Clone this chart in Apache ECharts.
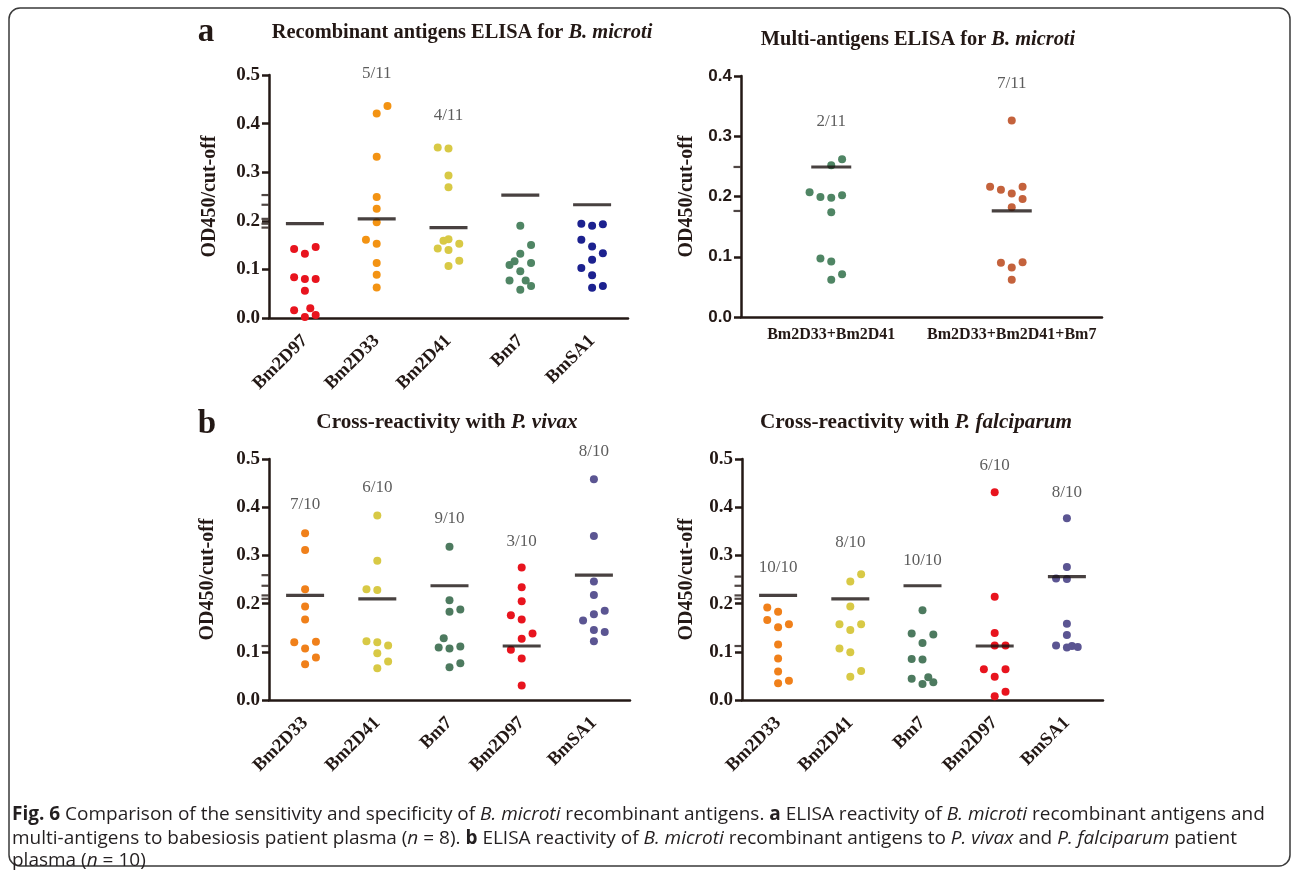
<!DOCTYPE html>
<html><head><meta charset="utf-8">
<script src="https://cdn.jsdelivr.net/npm/echarts@6/dist/echarts.min.js"></script>
<style>html,body{margin:0;padding:0;background:#fff}#c{width:1292px;height:871px}</style>
</head><body><div id="c"></div>
<script>
// ---------- Panel a (left): recombinant antigens ----------
const catsA = ['Bm2D97','Bm2D33','Bm2D41','Bm7','BmSA1'];
const aBm2D97 = [0.142,0.132,0.146,0.084,0.080,0.080,0.056,0.016,0.020,0.002,0.006];
const aBm2D97Jit = [-0.15,0,0.15,-0.15,0,0.15,0,-0.15,0.075,0,0.15];
const aBm2D33 = [0.436,0.421,0.332,0.249,0.225,0.197,0.161,0.153,0.113,0.089,0.063];
const aBm2D33Jit = [0.15,0,0,0,0,0,-0.15,0,0,0,0];
const aBm2D41 = [0.351,0.349,0.293,0.269,0.162,0.159,0.153,0.143,0.140,0.118,0.107];
const aBm2D41Jit = [-0.15,0,0,0,0,-0.07,0.15,-0.15,0,0.15,0];
const aBm7 = [0.190,0.150,0.132,0.117,0.109,0.113,0.096,0.077,0.077,0.066,0.058];
const aBm7Jit = [0,0.15,0,-0.08,-0.15,0.15,0,-0.15,0.075,0.15,0];
const aBmSA1 = [0.194,0.190,0.193,0.161,0.147,0.133,0.120,0.103,0.088,0.062,0.066];
const aBmSA1Jit = [-0.15,0,0.15,-0.15,0,0.15,0,-0.15,0,0,0.15];
const cutoffA = [0.194,0.204,0.186,0.253,0.233];
const countA = ['','5/11','4/11','',''];
const countAPos = [null,0.503,0.417,null,null];

// ---------- Panel a (right): multi-antigens ----------
const catsM = ['Bm2D33+Bm2D41','Bm2D33+Bm2D41+Bm7'];
const mPair = [0.262,0.252,0.207,0.199,0.198,0.202,0.174,0.097,0.092,0.071,0.062];
const mPairJit = [0.06,0,-0.12,-0.06,0,0.06,0,-0.06,0,0.06,0];
const mTriple = [0.326,0.216,0.211,0.205,0.216,0.196,0.182,0.090,0.091,0.082,0.062];
const mTripleJit = [0,-0.12,-0.06,0,0.06,0.06,0,-0.06,0.06,0,0];
const cutoffM = [0.249,0.176];
const countM = ['2/11','7/11'];
const countMPos = [0.325,0.388];

// ---------- Panel b (left): P. vivax ----------
const catsB = ['Bm2D33','Bm2D41','Bm7','Bm2D97','BmSA1'];
const vBm2D33 = [0.346,0.311,0.230,0.194,0.167,0.120,0.121,0.107,0.088,0.074];
const vBm2D33Jit = [0,0,0,0,0,-0.15,0.15,0,0.15,0];
const vBm2D41 = [0.383,0.289,0.230,0.228,0.122,0.120,0.113,0.097,0.080,0.066];
const vBm2D41Jit = [0,0,-0.15,0,-0.15,0,0.15,0,0.15,0];
const vBm7 = [0.318,0.207,0.183,0.188,0.128,0.109,0.107,0.111,0.068,0.076];
const vBm7Jit = [0,0,0,0.15,-0.08,-0.15,0,0.15,0,0.15];
const vBm2D97 = [0.275,0.234,0.205,0.176,0.167,0.138,0.127,0.104,0.086,0.030];
const vBm2D97Jit = [0,0,0,-0.15,0,0.15,0,-0.15,0,0];
const vBmSA1 = [0.458,0.340,0.246,0.218,0.178,0.185,0.165,0.145,0.141,0.122];
const vBmSA1Jit = [0,0,0,0,0,0.15,-0.15,0,0.15,0];
const cutoffV = [0.217,0.210,0.237,0.112,0.259];
const countV = ['7/10','6/10','9/10','3/10','8/10'];
const countVPos = [0.406,0.441,0.377,0.328,0.515];

// ---------- Panel b (right): P. falciparum ----------
const fBm2D33 = [0.192,0.183,0.166,0.151,0.157,0.115,0.086,0.059,0.035,0.040];
const fBm2D33Jit = [-0.15,0,-0.15,0,0.15,0,0,0,0,0.15];
const fBm2D41 = [0.261,0.246,0.194,0.157,0.157,0.145,0.107,0.099,0.060,0.048];
const fBm2D41Jit = [0.15,0,0,-0.15,0.15,0,-0.15,0,0.15,0];
const fBm7 = [0.186,0.138,0.136,0.118,0.085,0.084,0.044,0.047,0.037,0.033];
const fBm7Jit = [0,-0.15,0.15,0,-0.15,0,-0.15,0.08,0.15,0];
const fBm2D97 = [0.431,0.214,0.139,0.113,0.113,0.064,0.064,0.048,0.017,0.008];
const fBm2D97Jit = [0,0,0,0,0.15,-0.15,0.15,0,0.15,0];
const fBmSA1 = [0.377,0.276,0.252,0.251,0.158,0.135,0.113,0.109,0.112,0.110];
const fBmSA1Jit = [0,0,-0.15,0,0,0,-0.15,0,0.07,0.15];
const cutoffF = [0.217,0.210,0.237,0.112,0.256];
const countF = ['10/10','8/10','10/10','6/10','8/10'];
const countFPos = [0.275,0.327,0.289,0.486,0.431];

// ---------- styling ----------
const INK = '#231815';
const SERIF = '"Liberation Serif","Times New Roman",serif';
const SANS = '"Liberation Sans",Arial,sans-serif';
const RED='#e8141e', ORANGE='#f39313', ORANGE2='#f0801a', YELLOW='#d8c945', GREEN='#4f8564', GREEN2='#4d7a5f', NAVY='#1c218f', BROWN='#c4623c', PURPLE='#5b5592';

const panels = [
  {cats:catsA, groups:[aBm2D97,aBm2D33,aBm2D41,aBm7,aBmSA1], jits:[aBm2D97Jit,aBm2D33Jit,aBm2D41Jit,aBm7Jit,aBmSA1Jit],
   colors:[RED,ORANGE,YELLOW,GREEN,NAVY], cutoff:cutoffA, count:countA, countPos:countAPos, ymax:0.5,
   grid:{left:269,top:75,width:359,height:243}, rotate:45, tickFont:SERIF, tickSize:19, barW:38, nameGap:49},
  {cats:catsM, groups:[mPair,mTriple], jits:[mPairJit,mTripleJit],
   colors:[GREEN,BROWN], cutoff:cutoffM, count:countM, countPos:countMPos, ymax:0.4,
   grid:{left:741,top:76,width:361,height:241}, rotate:0, tickFont:SANS, tickSize:17, barW:40, nameGap:44},
  {cats:catsB, groups:[vBm2D33,vBm2D41,vBm7,vBm2D97,vBmSA1], jits:[vBm2D33Jit,vBm2D41Jit,vBm7Jit,vBm2D97Jit,vBmSA1Jit],
   colors:[ORANGE2,YELLOW,GREEN2,RED,PURPLE], cutoff:cutoffV, count:countV, countPos:countVPos, ymax:0.5,
   grid:{left:269,top:459,width:361,height:241}, rotate:45, tickFont:SERIF, tickSize:19, barW:38, nameGap:51},
  {cats:catsB, groups:[fBm2D33,fBm2D41,fBm7,fBm2D97,fBmSA1], jits:[fBm2D33Jit,fBm2D41Jit,fBm7Jit,fBm2D97Jit,fBmSA1Jit],
   colors:[ORANGE2,YELLOW,GREEN2,RED,PURPLE], cutoff:cutoffF, count:countF, countPos:countFPos, ymax:0.5,
   grid:{left:742,top:459,width:361,height:241}, rotate:45, tickFont:SERIF, tickSize:19, barW:38, nameGap:45}
];

const grid=[], xAxis=[], yAxis=[], series=[];
panels.forEach((p,i)=>{
  grid.push(Object.assign({containLabel:false}, p.grid));
  xAxis.push({
    type:'category', gridIndex:i, data:p.cats, boundaryGap:true,
    axisLine:{onZero:false, lineStyle:{color:INK,width:2.5}},
    axisTick:{alignWithLabel:true,length:7,lineStyle:{color:INK,width:2.5}},
    axisLabel:{rotate:p.rotate, interval:0, fontFamily:SERIF, fontWeight:'bold',
      fontSize:p.rotate?18.5:16, color:INK, margin:p.rotate?20:10}
  });
  xAxis.push({type:'value', gridIndex:i, min:-0.5, max:p.cats.length-0.5, show:false});
  yAxis.push({
    type:'value', gridIndex:i, min:0, max:p.ymax, interval:0.1,
    name:'OD450/cut-off', nameLocation:'middle', nameGap:p.nameGap,
    nameTextStyle:{fontFamily:SERIF, fontWeight:'bold', fontSize:20, color:INK},
    axisLine:{show:true, onZero:false, lineStyle:{color:INK,width:2.5}},
    axisTick:{show:true, length:7, lineStyle:{color:INK,width:2.5}},
    splitLine:{show:false},
    axisLabel:{formatter:v=>v.toFixed(1), fontFamily:p.tickFont, fontWeight:'bold', fontSize:p.tickSize, color:INK, margin:9}
  });
  const xc = 2*i, xv = 2*i+1;
  p.groups.forEach((vals,g)=>{
    series.push({
      type:'scatter', xAxisIndex:xv, yAxisIndex:i, symbolSize:8, clip:false,
      itemStyle:{color:p.colors[g], opacity:1},
      data: vals.map((v,k)=>[g + p.jits[g][k], v]),
      z:3
    });
  });
  // cut-off lines
  series.push({
    type:'scatter', xAxisIndex:xc, yAxisIndex:i, symbol:'rect', symbolSize:[p.barW,3.2], clip:false,
    itemStyle:{color:'#1a1210'}, data:p.cutoff.map((v,g)=>[p.cats[g], v]), z:4
  });
  // extra axis ticks at cut-off values
  series.push({
    type:'scatter', xAxisIndex:xv, yAxisIndex:i, symbol:'rect', symbolSize:[7,2.2], symbolOffset:[-4,0], clip:false,
    itemStyle:{color:INK}, data:p.cutoff.map(v=>[-0.5, v]), z:2, silent:true
  });
  // positive counts
  series.push({
    type:'scatter', xAxisIndex:xc, yAxisIndex:i, symbolSize:1, clip:false,
    itemStyle:{color:'rgba(0,0,0,0)'},
    label:{show:true, position:'inside', formatter:o=>o.data[2], fontFamily:SERIF, fontSize:17, color:'#333'},
    data:p.count.map((t,g)=>[p.cats[g], p.countPos[g], t]).filter(d=>d[2]!=='' ), z:5
  });
});

const CAPF = '"Open Sans","Noto Sans",sans-serif';
const CAPS = 19;
const capBase = {fontFamily:CAPF, fontSize:CAPS, fill:'#231f20'};
const capRich = {
  b:{fontFamily:CAPF, fontSize:CAPS, fontWeight:'bold', fill:'#231f20'},
  i:{fontFamily:CAPF, fontSize:CAPS, fontStyle:'italic', fill:'#231f20'}
};
function titleText(x,y,plain,ital,size){
  return {type:'text', x:x, y:y, style:{
    text:'{r|'+plain+'}{it|'+ital+'}', align:'center', verticalAlign:'middle',
    rich:{r:{fontFamily:SERIF,fontWeight:'bold',fontSize:size,fill:INK},
          it:{fontFamily:SERIF,fontWeight:'bold',fontStyle:'italic',fontSize:size,fill:INK}}}};
}
const graphic = [
  {type:'rect', shape:{x:9,y:8,width:1281,height:858,r:11}, style:{fill:'none',stroke:'#3a3a3a',lineWidth:1.5}},
  {type:'text', x:206, y:32, style:{text:'a', fontFamily:SERIF, fontWeight:'bold', fontSize:33, fill:INK, align:'center', verticalAlign:'middle'}},
  {type:'text', x:207, y:424, style:{text:'b', fontFamily:SERIF, fontWeight:'bold', fontSize:33, fill:INK, align:'center', verticalAlign:'middle'}},
  titleText(462,33,'Recombinant antigens ELISA for ','B. microti',20.4),
  titleText(918,40,'Multi-antigens ELISA for ','B. microti',20.4),
  titleText(447,423,'Cross-reactivity with ','P. vivax',21.2),
  titleText(916,423,'Cross-reactivity with ','P. falciparum',21.2),
  {type:'text', x:12, y:815, style:Object.assign({}, capBase, {verticalAlign:'middle', rich:capRich,
    text:'{b|Fig. 6} Comparison of the sensitivity and specificity of {i|B. microti} recombinant antigens. {b|a} ELISA reactivity of {i|B. microti} recombinant antigens and'})},
  {type:'text', x:12, y:839, style:Object.assign({}, capBase, {verticalAlign:'middle', rich:capRich,
    text:'multi-antigens to babesiosis patient plasma ({i|n} = 8). {b|b} ELISA reactivity of {i|B. microti} recombinant antigens to {i|P. vivax} and {i|P. falciparum} patient'})},
  {type:'text', x:12, y:861, style:Object.assign({}, capBase, {verticalAlign:'middle', rich:capRich,
    text:'plasma ({i|n} = 10)'})}
];

const chart = echarts.init(document.getElementById('c'), null, {renderer:'canvas'});
chart.setOption({animation:false, backgroundColor:'#fff', grid, xAxis, yAxis, series, graphic});
</script></body></html>
